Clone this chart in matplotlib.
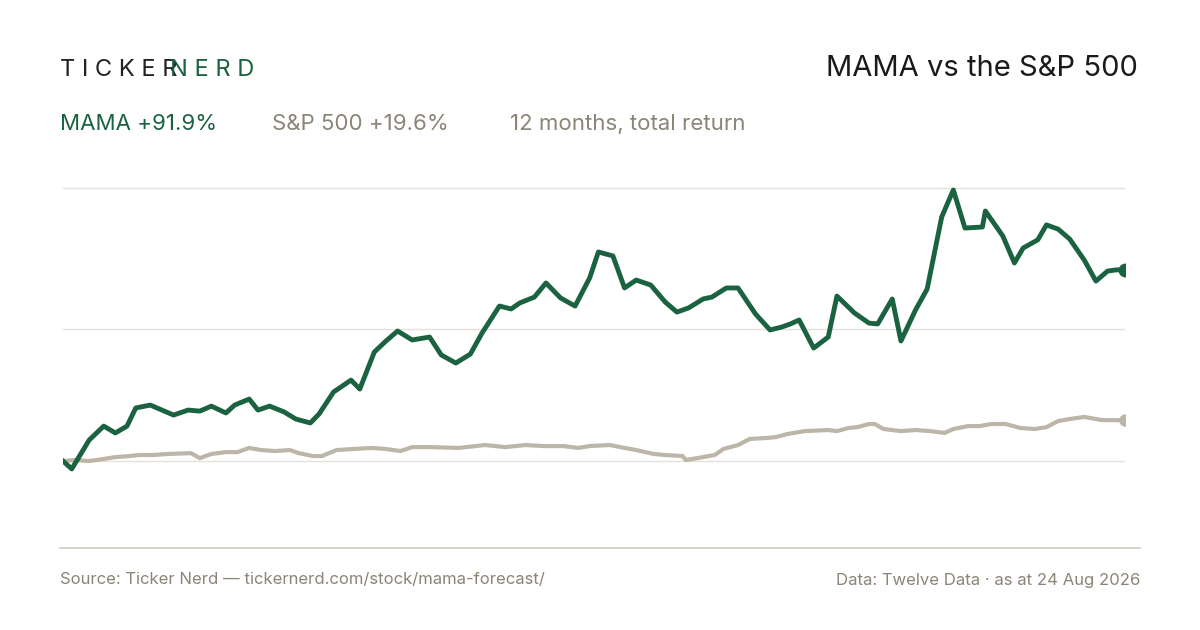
import matplotlib.pyplot as plt
import numpy as np

plt.rcParams['font.family'] = ['Inter', 'DejaVu Sans']

GREEN = '#1b6340'
GREY = '#bdb6a8'
MUTED = '#8a8576'

# values: day of the 12-month window, total return in %
mama_day = [0, 3, 9, 14, 18, 22, 25, 30, 34, 38, 43, 47, 51, 56, 59, 64, 67, 71, 76, 80, 85,
            88, 93, 99, 102, 107, 111, 115, 120, 126, 130, 135, 140, 144, 150, 154, 157, 162,
            166, 171, 176, 181, 184, 189, 193, 197, 202, 207, 211, 215, 220, 223, 228, 232,
            238, 243, 247, 250, 253, 258, 263, 266, 272, 277, 280, 285, 288, 297, 302, 306,
            310, 306, 314, 319, 322, 327, 330, 335, 338, 342, 346, 351, 355, 359, 362, 365]
mama_pct = [0.0, -3.8, 10.1, 16.8, 13.5, 16.8, 25.5, 26.9, 24.5, 22.1, 24.5, 24.0, 26.4, 23.1,
            26.9, 29.8, 24.5, 26.4, 23.6, 20.2, 18.3, 22.6, 33.2, 38.9, 34.6, 52.4, 57.7, 62.5,
            58.2, 59.6, 51.0, 47.1, 51.4, 61.5, 74.5, 73.1, 76.0, 78.8, 85.6, 78.4, 74.5, 88.0,
            100.5, 98.6, 83.2, 87.0, 84.6, 76.4, 71.6, 73.6, 77.9, 78.8, 83.2, 83.2, 70.7, 63.0,
            64.4, 65.9, 67.8, 54.3, 59.6, 79.3, 71.2, 66.3, 65.9, 77.9, 57.7, 72.6, 82.7,
            117.3, 130.3, 112.0, 112.5, 120.2, 108.2, 95.2, 102.4, 106.3, 113.5, 111.5,
            106.7, 96.6, 86.5, 91.3, 91.9, 91.9]
mama_day = [0, 3, 9, 14, 18, 22, 25, 30, 34, 38, 43, 47, 51, 56, 59, 64, 67, 71, 76, 80, 85,
            88, 93, 99, 102, 107, 111, 115, 120, 126, 130, 135, 140, 144, 150, 154, 157, 162,
            166, 171, 176, 181, 184, 189, 193, 197, 202, 207, 211, 215, 220, 223, 228, 232,
            238, 243, 247, 250, 253, 258, 263, 266, 272, 277, 280, 285, 288, 293, 297, 302,
            306, 310, 316, 317, 323, 327, 330, 335, 338, 342, 346, 351, 355, 359, 362, 365]
sp_day = [0, 4, 9, 14, 18, 23, 26, 31, 36, 44, 47, 51, 56, 60, 64, 68, 73, 78, 81, 86, 89, 94,
          100, 106, 111, 116, 120, 126, 136, 145, 152, 159, 165, 172, 177, 181, 188, 193, 197,
          203, 207, 213, 214, 218, 224, 227, 232, 236, 242, 245, 249, 255, 263, 266, 270, 273,
          277, 279, 282, 288, 293, 298, 303, 306, 311, 315, 319, 324, 329, 334, 338, 342, 346,
          351, 357, 365]
sp_pct = [0.0, 0.5, 0.0, 1.0, 1.9, 2.4, 2.9, 2.9, 3.4, 3.8, 1.4, 3.4, 4.3, 4.3, 6.3, 5.3, 4.8,
          5.3, 3.8, 2.4, 2.4, 5.3, 5.8, 6.3, 5.8, 4.8, 6.7, 6.7, 6.3, 7.7, 6.7, 7.7, 7.2, 7.2,
          6.3, 7.2, 7.7, 6.3, 5.3, 3.4, 2.9, 2.4, 0.5, 1.4, 2.9, 5.8, 7.7, 10.6, 11.1, 11.5,
          13.0, 14.4, 14.9, 14.4, 15.9, 16.3, 17.8, 17.8, 15.4, 14.4, 14.9, 14.4, 13.5, 15.4,
          16.8, 16.8, 17.8, 17.8, 15.9, 15.4, 16.3, 19.2, 20.2, 21.2, 19.7, 19.6]
grid_pct = [0, 63.5, 131.4]

fig = plt.figure(figsize=(12, 6.3), dpi=100)
ax = fig.add_axes([63 / 1200, 1 - 548 / 630, 1062 / 1200, 378 / 630])
ax.set_xlim(0, 365)
ax.set_ylim(-41.8, 139.9)
for g in grid_pct:
    ax.axhline(g, color='#e4e1da', lw=1, zorder=0)
ax.plot(sp_day, sp_pct, color=GREY, lw=3, solid_joinstyle='round', zorder=2)
ax.plot(mama_day, mama_pct, color=GREEN, lw=3.5, solid_joinstyle='round', zorder=3)
ax.plot(sp_day[-1], sp_pct[-1], 'o', color=GREY, ms=8, zorder=4)
ax.plot(mama_day[-1], mama_pct[-1], 'o', color=GREEN, ms=9, zorder=4)
ax.axis('off')

fig.add_artist(plt.Line2D([60 / 1200, 1140 / 1200], [1 - 548 / 630] * 2, color='#cfcac0', lw=1.2))

fig.text(60 / 1200, 1 - 70 / 630, 'T I C K E R', fontsize=17, color='#222222', va='center')
fig.text(170 / 1200, 1 - 70 / 630, 'N E R D', fontsize=17, color=GREEN, va='center')
fig.text(1138 / 1200, 1 - 68 / 630, 'MAMA vs the S&P 500', fontsize=21, color='#1a1a1a',
         ha='right', va='center')
fig.text(60 / 1200, 1 - 124 / 630, 'MAMA +91.9%', fontsize=16, color=GREEN, va='center')
fig.text(272 / 1200, 1 - 124 / 630, 'S&P 500 +19.6%', fontsize=16, color=MUTED, va='center')
fig.text(510 / 1200, 1 - 124 / 630, '12 months, total return', fontsize=16, color=MUTED, va='center')
fig.text(60 / 1200, 1 - 580 / 630, 'Source: Ticker Nerd — tickernerd.com/stock/mama-forecast/',
         fontsize=12, color=MUTED, va='center')
fig.text(1140 / 1200, 1 - 580 / 630, 'Data: Twelve Data · as at 24 Aug 2026',
         fontsize=12, color=MUTED, va='center', ha='right')

fig.savefig('out.png', dpi=100, facecolor='white')
